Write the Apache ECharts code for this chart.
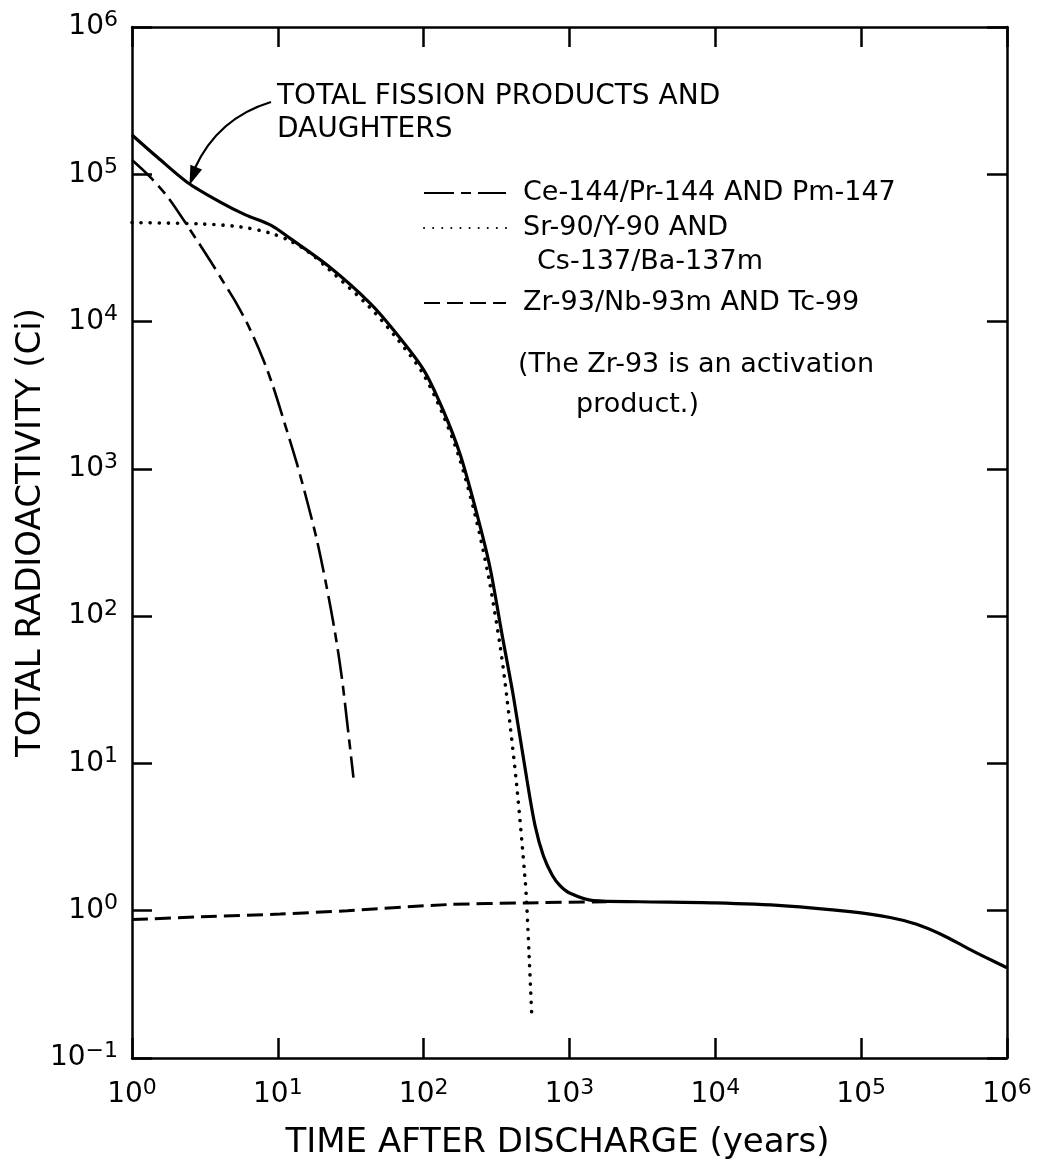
<!DOCTYPE html>
<html>
<head>
<meta charset="utf-8">
<script src="https://cdn.jsdelivr.net/npm/echarts@6/dist/echarts.min.js"></script>
<style>
html,body{margin:0;padding:0;background:#fff;}
#chart{width:1044px;height:1165px;}
</style>
</head>
<body>
<div id="chart"></div>
<script>
// ---- Data ----
const yearsTotal = [1, 1.5, 2.4, 4, 6, 9, 12, 22, 43, 65, 100, 136, 178, 231, 285, 343, 412, 510, 580, 662, 760, 861, 1000, 1460, 3000, 1e4, 3e4, 8.4e4, 1.58e5, 2.4e5, 3.55e5, 5.3e5, 7.2e5, 1e6];
const ciTotal    = [1.85e5, 1.3e5, 8.8e4, 6.5e4, 5.3e4, 4.5e4, 3.7e4, 2.4e4, 1.33e4, 8.3e3, 4.7e3, 2.5e3, 1.25e3, 500, 214, 77, 28.7, 7.8, 3.8, 2.36, 1.75, 1.48, 1.32, 1.17, 1.15, 1.13, 1.08, 0.985, 0.90, 0.81, 0.69, 0.56, 0.48, 0.41];

const yearsCe = [1, 1.33, 1.78, 2.5, 3.43, 4.17, 5.2, 6.3, 7.9, 9.3, 11.2, 13.5, 15.9, 18.5, 21.4, 24.7, 27.5, 29.7, 33];
const ciCe    = [1.25e5, 9.6e4, 6.9e4, 4.2e4, 2.6e4, 1.9e4, 1.33e4, 9.3e3, 5.6e3, 3.6e3, 2.0e3, 1.09e3, 600, 331, 166, 77, 38, 20, 8];

const yearsSr = [1, 3, 5.5, 8.8, 12, 16, 22, 42, 64, 98, 134, 175, 226, 280, 335, 371, 435, 496, 508, 528, 551];
const ciSr    = [4.7e4, 4.6e4, 4.4e4, 4.0e4, 3.55e4, 3.0e4, 2.3e4, 1.27e4, 7.9e3, 4.5e3, 2.4e3, 1.2e3, 480, 180, 62, 28.7, 7.0, 1.64, 1.14, 0.51, 0.194];

const yearsZr = [1, 3, 10.4, 30, 144, 508, 1800];
const ciZr    = [0.87, 0.91, 0.95, 1.0, 1.1, 1.13, 1.15];

const nameTotal = 'TOTAL FISSION PRODUCTS AND\nDAUGHTERS';
const nameCe = 'Ce-144/Pr-144 AND Pm-147';
const nameSr = 'Sr-90/Y-90 AND';
const nameSr2 = 'Cs-137/Ba-137m';
const nameZr = 'Zr-93/Nb-93m AND Tc-99';
const noteLine1 = '(The Zr-93 is an activation';
const noteLine2 = 'product.)';
const xTitle = 'TIME AFTER DISCHARGE (years)';
const yTitle = 'TOTAL RADIOACTIVITY (Ci)';

// ---- Chart ----
const FONT = 'DejaVu Sans';
const INK = '#000';
const zip = (xs, ys) => xs.map((x, i) => [x, ys[i]]);

function expLabel(v) {
  const e = Math.round(Math.log10(v));
  const s = e < 0 ? '\u2212' + (-e) : String(e);
  return '{b|10}{e|' + s + '}';
}
const richLbl = {
  b: {fontSize: 28, lineHeight: 36, fontFamily: FONT, color: INK},
  e: {fontSize: 22, lineHeight: 22, fontFamily: FONT, color: INK, verticalAlign: 'top'}
};

const axisCommon = {
  type: 'log', logBase: 10, interval: 1,
  axisLine: {show: true, lineStyle: {color: INK, width: 2.5}},
  axisTick: {show: true, inside: true, length: 20, lineStyle: {color: INK, width: 2.5}},
  minorTick: {show: false},
  splitLine: {show: false},
  minorSplitLine: {show: false}
};

const legendCommon = {
  orient: 'vertical', left: 418,
  itemWidth: 82, itemHeight: 14, itemGap: 5,
  itemStyle: {opacity: 0},
  textStyle: {fontFamily: FONT, fontSize: 27, lineHeight: 30, color: INK, padding: [0, 0, 0, 12]},
  selectedMode: false
};

const chart = echarts.init(document.getElementById('chart'), null, {renderer: 'canvas'});
const option = {
  backgroundColor: '#fff',
  animation: false,
  grid: {left: 132, right: 37, top: 27, bottom: 106},
  xAxis: [
    Object.assign({}, axisCommon, {
      position: 'bottom', min: 1, max: 1e6,
      axisLabel: {margin: 19, formatter: expLabel, rich: richLbl},
      name: xTitle, nameLocation: 'middle', nameGap: 68,
      nameTextStyle: {fontFamily: FONT, fontSize: 34, color: INK, padding: [0, 24, 0, 0]}
    }),
    Object.assign({}, axisCommon, {
      position: 'top', min: 1, max: 1e6, axisLabel: {show: false}
    })
  ],
  yAxis: [
    Object.assign({}, axisCommon, {
      position: 'left', min: 0.1, max: 1e6,
      axisLabel: {margin: 14, formatter: expLabel, rich: richLbl},
      name: yTitle, nameLocation: 'middle', nameGap: 84, nameMoveOverlap: false,
      nameTextStyle: {fontFamily: FONT, fontSize: 34, color: INK, padding: [0, 0, 0, 20]}
    }),
    Object.assign({}, axisCommon, {
      position: 'right', min: 0.1, max: 1e6, axisLabel: {show: false}
    })
  ],
  legend: [
    Object.assign({}, legendCommon, {data: [nameCe, nameSr], top: 173}),
    Object.assign({}, legendCommon, {data: [nameZr], top: 283})
  ],
  series: [
    {
      name: 'Total', type: 'line', data: zip(yearsTotal, ciTotal),
      symbol: 'none', smooth: 0.3, z: 5,
      itemStyle: {color: INK},
      lineStyle: {color: INK, width: 3.2}
    },
    {
      name: nameCe, type: 'line', data: zip(yearsCe, ciCe),
      symbol: 'none', smooth: 0.3,
      itemStyle: {color: INK},
      lineStyle: {color: INK, width: 2.6, type: [30, 7, 10, 7]}
    },
    {
      name: nameSr, type: 'line', data: zip(yearsSr, ciSr),
      symbol: 'none', smooth: 0.3,
      itemStyle: {color: INK},
      lineStyle: {color: INK, width: 3.6, type: [0.1, 9], cap: 'round'}
    },
    {
      name: nameZr, type: 'line', data: zip(yearsZr, ciZr),
      symbol: 'none', smooth: 0.3,
      itemStyle: {color: INK},
      lineStyle: {color: INK, width: 3, type: [16, 7]}
    }
  ],
  graphic: [
    {
      type: 'text', left: 277, top: 80,
      style: {text: nameTotal, fontFamily: FONT, fontSize: 28, lineHeight: 33, fill: INK}
    },
    {
      type: 'bezierCurve',
      shape: {x1: 271, y1: 102, cpx1: 218, cpy1: 118, x2: 195, y2: 168},
      style: {stroke: INK, lineWidth: 2.2, fill: null}
    },
    {
      type: 'polygon',
      shape: {points: [[189.5, 185], [190.4, 164.8], [202, 169.6]]},
      style: {fill: INK}
    },
    {
      type: 'text', left: 537, top: 247,
      style: {text: nameSr2, fontFamily: FONT, fontSize: 27, lineHeight: 30, fill: INK}
    },
    {
      type: 'text', left: 518, top: 350,
      style: {text: noteLine1, fontFamily: FONT, fontSize: 27, lineHeight: 30, fill: INK}
    },
    {
      type: 'text', left: 576, top: 390,
      style: {text: noteLine2, fontFamily: FONT, fontSize: 27, lineHeight: 30, fill: INK}
    }
  ]
};
chart.setOption(option);
</script>
</body>
</html>
